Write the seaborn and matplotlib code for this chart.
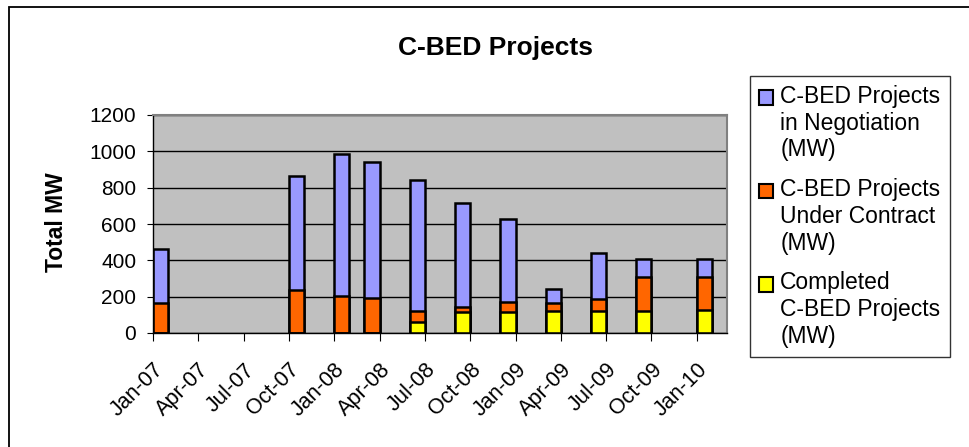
import matplotlib
matplotlib.use("Agg")
import matplotlib.pyplot as plt
from matplotlib.patches import Patch, Rectangle
import pandas as pd
import seaborn as sns

# ---------------------- style ----------------------
sns.set_style("ticks")
plt.rcParams['font.family'] = ['Liberation Sans', 'DejaVu Sans']
plt.rcParams.update({'text.color': 'black', 'axes.labelcolor': 'black',
                     'xtick.color': 'black', 'ytick.color': 'black'})

# ---------------------- data (MW) ----------------------
# monthly slots on the date axis, Jan-07 .. Feb-10
all_months = pd.period_range('2007-01', '2010-02', freq='M').strftime('%b-%y').tolist()

report_months = ['Jan-07', 'Oct-07', 'Jan-08', 'Mar-08', 'Jun-08', 'Sep-08',
                 'Dec-08', 'Mar-09', 'Jun-09', 'Sep-09', 'Jan-10']
completed = [0, 0, 0, 0, 62, 117, 117, 119, 121, 123, 128]
under_contract = [165, 235, 205, 190, 59, 26, 55, 46, 64, 185, 180]
negotiation = [300, 630, 780, 750, 720, 573, 458, 79, 253, 97, 101]

tick_labels = ['Jan-07', 'Apr-07', 'Jul-07', 'Oct-07', 'Jan-08', 'Apr-08', 'Jul-08',
               'Oct-08', 'Jan-09', 'Apr-09', 'Jul-09', 'Oct-09', 'Jan-10']

series_labels = ['C-BED Projects\nin Negotiation\n(MW)',
                 'C-BED Projects\nUnder Contract\n(MW)',
                 'Completed\nC-BED Projects\n(MW)']
colors = ['#9999FF', '#FF6600', '#FFFF00']

df = pd.DataFrame({'month': report_months, 'completed': completed,
                   'contract': under_contract, 'negotiation': negotiation})
df['contract_top'] = df['completed'] + df['contract']
df['total'] = df['contract_top'] + df['negotiation']

# ---------------------- figure ----------------------
fig = plt.figure(figsize=(9.69, 4.47), dpi=100)
ax = fig.add_axes([153 / 969, (447 - 333) / 447, 574 / 969, 218 / 447])
ax.set_facecolor('#C0C0C0')

# stacked bars: draw cumulative totals back to front
for col, color in zip(['total', 'contract_top', 'completed'], colors):
    sns.barplot(data=df, x='month', y=col, order=all_months, color=color,
                saturation=1, width=1.0, edgecolor='black', linewidth=1.8,
                errorbar=None, ax=ax)

ax.set_xlim(-0.5, len(all_months) - 0.5)
ax.set_ylim(0, 1200)
ax.set_yticks(range(0, 1201, 200))
ax.tick_params(axis='y', labelsize=15, length=4, pad=8, color='black')
ax.set_xticks([i * 3 - 0.5 for i in range(len(tick_labels))])
ax.set_xticklabels(tick_labels, rotation=45, ha='right', va='top',
                   rotation_mode='anchor', fontsize=15.5)
ax.tick_params(axis='x', length=6, pad=13, color='black')

ax.yaxis.grid(True, color='black', linewidth=1)
ax.set_axisbelow(True)
for side in ['left', 'bottom']:
    ax.spines[side].set_color('black')
    ax.spines[side].set_linewidth(1)
for side in ['top', 'right']:
    ax.spines[side].set_color('#808080')
    ax.spines[side].set_linewidth(1.5)

ax.set_xlabel('')
ax.set_ylabel('Total MW', fontsize=16.5, fontweight='bold')
ax.yaxis.set_label_coords(-0.148, 0.51)

fig.text(495 / 969, 1 - 48 / 447, 'C-BED Projects', ha='center', va='center',
         fontsize=19, fontweight='bold')

handles = [Patch(facecolor=c, edgecolor='black', linewidth=1.5) for c in colors]
leg = fig.legend(handles, series_labels, loc='upper left',
                 bbox_to_anchor=(750 / 969, 1 - 76 / 447), fontsize=16.5,
                 frameon=True, fancybox=False, edgecolor='black',
                 handlelength=0.62, handleheight=0.62, handletextpad=0.3,
                 borderaxespad=0, borderpad=0.4, labelspacing=0.74)
leg.get_frame().set_linewidth(1)
# put each swatch beside the first line of its label (one line step up)
for h in leg.legend_handles:
    h.set_y(h.get_y() + 19)

# chart-area border
fig.add_artist(Rectangle((9 / 969, -0.05), 1.1, 1.05 - 7 / 447,
                         transform=fig.transFigure, fill=False,
                         edgecolor='black', linewidth=1.3))

fig.savefig('out.png', dpi=100)
